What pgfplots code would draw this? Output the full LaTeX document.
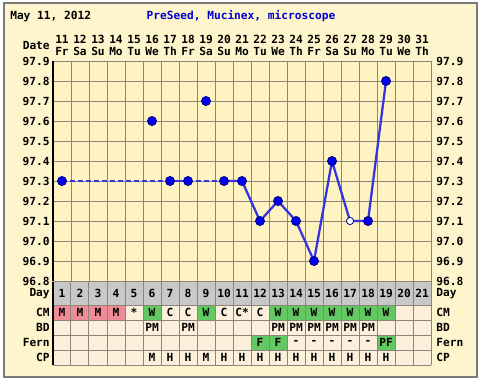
\documentclass[border=0pt]{standalone}
\usepackage{fontspec}
\setmainfont{DejaVu Sans Mono}
\usepackage{pgfplots}
\pgfplotsset{compat=1.18}
\definecolor{bgout}{HTML}{FFF5CC}
\definecolor{bgplot}{HTML}{FFF3C2}
\definecolor{gridc}{HTML}{8C8578}
\definecolor{bordc}{HTML}{7A7A7A}
\definecolor{cellc}{HTML}{FCEFDC}
\definecolor{dayrow}{HTML}{C8C8C8}
\definecolor{pinkc}{HTML}{F08C98}
\definecolor{greenc}{HTML}{62C862}
\definecolor{linec}{HTML}{3434E0}
\definecolor{markc}{HTML}{0000EE}
\definecolor{markd}{HTML}{000080}
\definecolor{titlec}{HTML}{0000CC}
\newcommand{\lbl}{\fontsize{8.4}{9}\selectfont\bfseries}
\newcommand{\tcell}[4]{\fill[#4] (axis cs:{#1-0.5},-#2) rectangle (axis cs:{#1+0.5},-#3);}
\newcommand{\ttext}[3]{\node[font=\lbl,inner sep=0pt] at (axis cs:#1,-#2) {#3};}
\newcommand{\hd}[3]{\node[font=\lbl,inner sep=0pt] at (axis cs:#1,-39) {#2};\node[font=\lbl,inner sep=0pt] at (axis cs:#1,-51) {#3};}
\begin{document}
\begin{tikzpicture}
% ---------- decoration axis (pixel rows, day columns) ----------
\begin{axis}[at={(0,0)},anchor=south west,width=283.5pt,height=165pt,scale only axis,
  xmin=0.5,xmax=21.5,ymin=-281,ymax=-61,hide axis,clip=false]
\coordinate (BBsw) at (axis cs:-2.4444,-380);
\coordinate (BBne) at (axis cs:24.3889,0);
\fill[white] (axis cs:-2.4444,0) rectangle (axis cs:24.3889,-380);
\fill[bgout,draw=bordc,line width=1.3pt] (axis cs:-2.2222,-3) rectangle (axis cs:24.0556,-377);
% header
\node[anchor=west,font=\lbl,inner sep=0pt] at (axis cs:-1.8889,-16) {May 11, 2012};
\node[font=\lbl,text=titlec,inner sep=0pt] at (axis cs:10.944,-16) {PreSeed, Mucinex, microscope};
\node[anchor=east,font=\lbl,inner sep=0pt] at (axis cs:0.3333,-45) {Date};
\hd{1}{11}{Fr}\hd{2}{12}{Sa}\hd{3}{13}{Su}\hd{4}{14}{Mo}\hd{5}{15}{Tu}\hd{6}{16}{We}\hd{7}{17}{Th}
\hd{8}{18}{Fr}\hd{9}{19}{Sa}\hd{10}{20}{Su}\hd{11}{21}{Mo}\hd{12}{22}{Tu}\hd{13}{23}{We}\hd{14}{24}{Th}
\hd{15}{25}{Fr}\hd{16}{26}{Sa}\hd{17}{27}{Su}\hd{18}{28}{Mo}\hd{19}{29}{Tu}\hd{20}{30}{We}\hd{21}{31}{Th}
% right temperature labels
\node[anchor=west,font=\lbl,inner sep=0pt] at (axis cs:21.7778,-61) {97.9};
\node[anchor=west,font=\lbl,inner sep=0pt] at (axis cs:21.7778,-81) {97.8};
\node[anchor=west,font=\lbl,inner sep=0pt] at (axis cs:21.7778,-101) {97.7};
\node[anchor=west,font=\lbl,inner sep=0pt] at (axis cs:21.7778,-121) {97.6};
\node[anchor=west,font=\lbl,inner sep=0pt] at (axis cs:21.7778,-141) {97.5};
\node[anchor=west,font=\lbl,inner sep=0pt] at (axis cs:21.7778,-161) {97.4};
\node[anchor=west,font=\lbl,inner sep=0pt] at (axis cs:21.7778,-181) {97.3};
\node[anchor=west,font=\lbl,inner sep=0pt] at (axis cs:21.7778,-201) {97.2};
\node[anchor=west,font=\lbl,inner sep=0pt] at (axis cs:21.7778,-221) {97.1};
\node[anchor=west,font=\lbl,inner sep=0pt] at (axis cs:21.7778,-241) {97.0};
\node[anchor=west,font=\lbl,inner sep=0pt] at (axis cs:21.7778,-261) {96.9};
\node[anchor=west,font=\lbl,inner sep=0pt] at (axis cs:21.7778,-281) {96.8};
% table backgrounds
\fill[dayrow] (axis cs:0.5,-282) rectangle (axis cs:21.5,-305);
\fill[cellc] (axis cs:0.5,-305) rectangle (axis cs:21.5,-365);
\tcell{1}{305}{320}{pinkc}\tcell{2}{305}{320}{pinkc}\tcell{3}{305}{320}{pinkc}\tcell{4}{305}{320}{pinkc}
\tcell{6}{305}{320}{greenc}\tcell{9}{305}{320}{greenc}
\pgfplotsinvokeforeach{13,...,19}{\tcell{#1}{305}{320}{greenc}}
\tcell{12}{335}{350}{greenc}\tcell{13}{335}{350}{greenc}\tcell{19}{335}{350}{greenc}
% table grid
\pgfplotsinvokeforeach{0.5,1.5,...,21.5}{\draw[gridc,line width=0.75pt] (axis cs:#1,-282) -- (axis cs:#1,-365);}
\pgfplotsinvokeforeach{305,320,335,350,365}{\draw[gridc,line width=0.75pt] (axis cs:0.5,-#1) -- (axis cs:21.5,-#1);}
\draw[black,line width=0.9pt] (axis cs:0.5,-282) -- (axis cs:0.5,-365);
% table text
\pgfplotsinvokeforeach{1,...,21}{\ttext{#1}{293.5}{#1}}
\ttext{1}{312.5}{M}\ttext{2}{312.5}{M}\ttext{3}{312.5}{M}\ttext{4}{312.5}{M}\ttext{5}{312.5}{*}
\ttext{6}{312.5}{W}\ttext{7}{312.5}{C}\ttext{8}{312.5}{C}\ttext{9}{312.5}{W}\ttext{10}{312.5}{C}
\ttext{11}{312.5}{C*}\ttext{12}{312.5}{C}
\pgfplotsinvokeforeach{13,...,19}{\ttext{#1}{312.5}{W}}
\ttext{6}{327.5}{PM}\ttext{8}{327.5}{PM}
\pgfplotsinvokeforeach{13,...,18}{\ttext{#1}{327.5}{PM}}
\ttext{12}{342.5}{F}\ttext{13}{342.5}{F}
\pgfplotsinvokeforeach{14,...,18}{\ttext{#1}{342.5}{-}}
\ttext{19}{342.5}{PF}
\ttext{6}{357.5}{M}\ttext{7}{357.5}{H}\ttext{8}{357.5}{H}\ttext{9}{357.5}{M}\ttext{10}{357.5}{H}\ttext{11}{357.5}{H}
\pgfplotsinvokeforeach{12,...,19}{\ttext{#1}{357.5}{H}}
% row labels
\node[anchor=east,font=\lbl,inner sep=0pt] at (axis cs:0.3333,-293.5) {Day};
\node[anchor=east,font=\lbl,inner sep=0pt] at (axis cs:0.3333,-312.5) {CM};
\node[anchor=east,font=\lbl,inner sep=0pt] at (axis cs:0.3333,-327.5) {BD};
\node[anchor=east,font=\lbl,inner sep=0pt] at (axis cs:0.3333,-342.5) {Fern};
\node[anchor=east,font=\lbl,inner sep=0pt] at (axis cs:0.3333,-357.5) {CP};
\node[anchor=west,font=\lbl,inner sep=0pt] at (axis cs:21.7778,-293.5) {Day};
\node[anchor=west,font=\lbl,inner sep=0pt] at (axis cs:21.7778,-312.5) {CM};
\node[anchor=west,font=\lbl,inner sep=0pt] at (axis cs:21.7778,-327.5) {BD};
\node[anchor=west,font=\lbl,inner sep=0pt] at (axis cs:21.7778,-342.5) {Fern};
\node[anchor=west,font=\lbl,inner sep=0pt] at (axis cs:21.7778,-357.5) {CP};
\end{axis}
% ---------- temperature axis ----------
\begin{axis}[at={(0,0)},anchor=south west,width=283.5pt,height=165pt,scale only axis,
  xmin=0.5,xmax=21.5,ymin=96.8,ymax=97.9,
  axis background/.style={fill=bgplot},
  xtick={0.5,1.5,...,21.5},xticklabels={},
  ytick={96.8,96.9,97.0,97.1,97.2,97.3,97.4,97.5,97.6,97.7,97.8,97.9},
  yticklabel style={font=\lbl,anchor=east,inner sep=0pt,xshift=-2.3pt},
  /pgf/number format/.cd,fixed,fixed zerofill,precision=1,assume math mode=true,
  /pgfplots/.cd,
  tick style={draw=none},
  grid=major,major grid style={draw=gridc,line width=0.75pt},
  axis line style={draw=gridc,line width=0.75pt},
  clip=false]
\addplot[linec,line width=1.7pt,dash pattern=on 3.8pt off 2.2pt] coordinates {(1,97.3)(7,97.3)};
\addplot[linec,line width=1.7pt] coordinates {(7,97.3)(8,97.3)};
\addplot[linec,line width=1.7pt,dash pattern=on 3.8pt off 2.2pt] coordinates {(8,97.3)(10,97.3)};
\addplot[linec,line width=1.7pt] coordinates {(10,97.3)(11,97.3)(12,97.1)(13,97.2)(14,97.1)(15,96.9)(16,97.4)(17,97.1)(18,97.1)(19,97.8)};
\addplot[only marks,mark=*,mark size=3.4pt,mark options={fill=markc,draw=markd,line width=0.6pt}] coordinates {(1,97.3)(6,97.6)(7,97.3)(8,97.3)(9,97.7)(10,97.3)(11,97.3)(12,97.1)(13,97.2)(14,97.1)(15,96.9)(16,97.4)(18,97.1)(19,97.8)};
\addplot[only marks,mark=*,mark size=2.7pt,mark options={fill=white,draw=markd,line width=0.6pt}] coordinates {(17,97.1)};
\draw[black,line width=0.9pt] (rel axis cs:0,0) -- (rel axis cs:0,1);
\end{axis}
\pgfresetboundingbox
\path[use as bounding box] (BBsw) rectangle (BBne);
\end{tikzpicture}
\end{document}
